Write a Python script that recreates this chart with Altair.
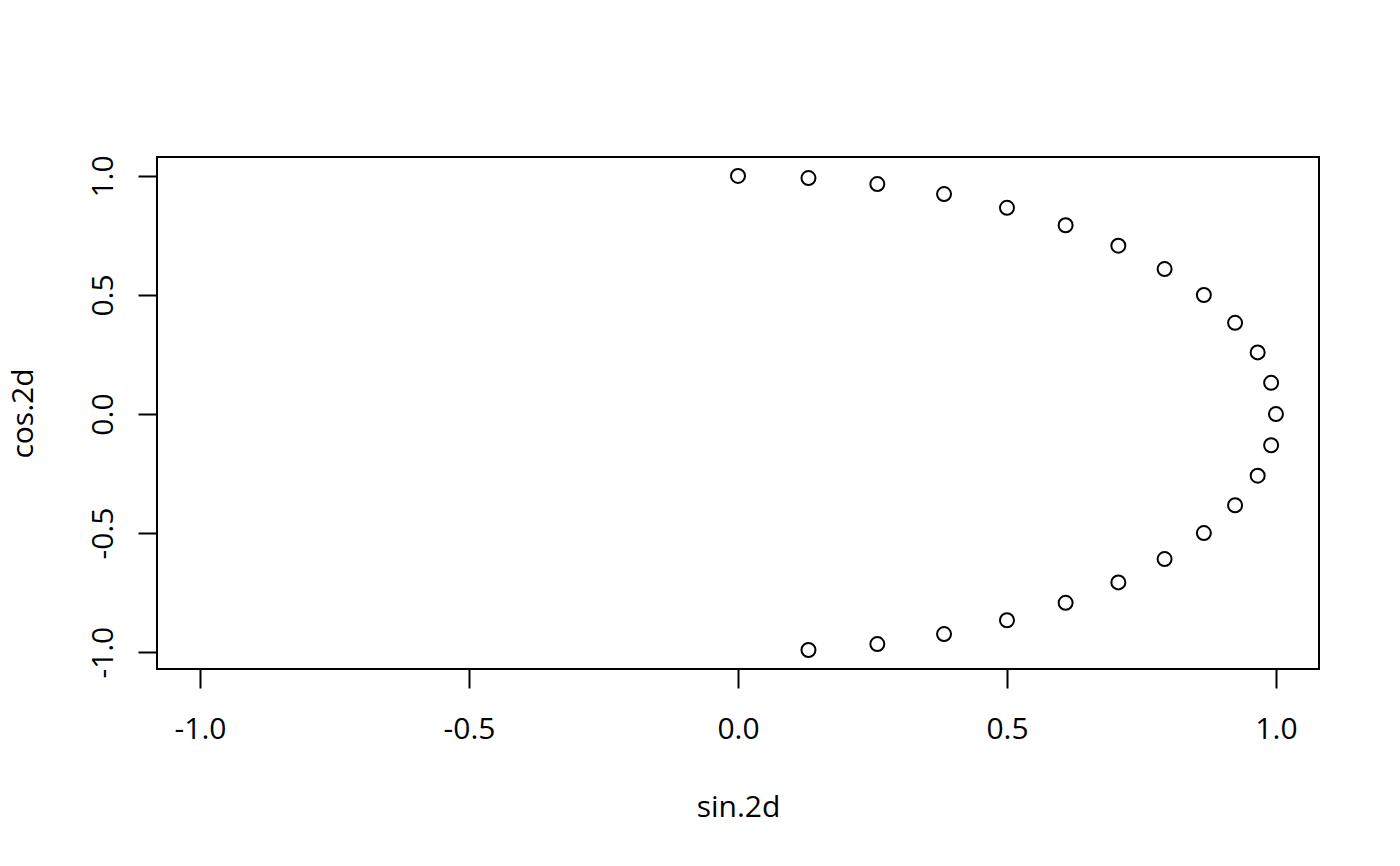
import altair as alt
import pandas as pd

sin_2d = [0.0, 0.131, 0.259, 0.383, 0.5, 0.609, 0.707, 0.793, 0.866, 0.924, 0.966, 0.991,
          1.0, 0.991, 0.966, 0.924, 0.866, 0.793, 0.707, 0.609, 0.5, 0.383, 0.259, 0.131]
cos_2d = [1.0, 0.991, 0.966, 0.924, 0.866, 0.793, 0.707, 0.609, 0.5, 0.383, 0.259, 0.131,
          0.0, -0.131, -0.259, -0.383, -0.5, -0.609, -0.707, -0.793, -0.866, -0.924, -0.966, -0.991]
ticks = [-1.0, -0.5, 0.0, 0.5, 1.0]

df = pd.DataFrame({"sx": sin_2d, "cy": cos_2d})

FONT = "Open Sans"
FS = 30
LBL = "replace(format(datum.value, '.1f'), '\u2212', '-')"

chart = alt.Chart(df).mark_point(
    shape="circle", filled=False, color="black", strokeWidth=2, size=196, opacity=1
).encode(
    x=alt.X("sx:Q", scale=alt.Scale(domain=[-1.08, 1.08], nice=False, zero=False),
            axis=alt.Axis(values=ticks, labelExpr=LBL, grid=False, domain=False,
                          tickSize=19, tickWidth=2, tickColor="black",
                          labelFont=FONT, labelFontSize=FS, labelColor="black",
                          labelBaseline="alphabetic", labelPadding=50, labelFlush=False,
                          title="sin.2d", titleFont=FONT, titleFontSize=FS,
                          titleFontWeight="normal", titleColor="black",
                          titleBaseline="alphabetic", titleY=147)),
    y=alt.Y("cy:Q", scale=alt.Scale(domain=[-1.0708, 1.0796], nice=False, zero=False),
            axis=alt.Axis(values=ticks, labelExpr=LBL, grid=False, domain=False,
                          tickSize=19, tickWidth=2, tickColor="black",
                          labelFont=FONT, labelFontSize=FS, labelColor="black",
                          labelAngle=270, labelAlign="center", labelBaseline="alphabetic",
                          labelPadding=26, labelFlush=False,
                          title="cos.2d", titleFont=FONT, titleFontSize=FS,
                          titleFontWeight="normal", titleColor="black",
                          titleAngle=270, titleBaseline="alphabetic", titleX=-125)),
).properties(
    width=1162, height=512,
    autosize=alt.AutoSizeParams(type="none"),
    padding={"left": 149, "top": 149, "right": 60, "bottom": 180},
).configure(
    background="white"
).configure_view(
    stroke="black", strokeWidth=2, fill="white"
)

chart.save("out.html", embed_options={"renderer": "svg", "actions": False})
